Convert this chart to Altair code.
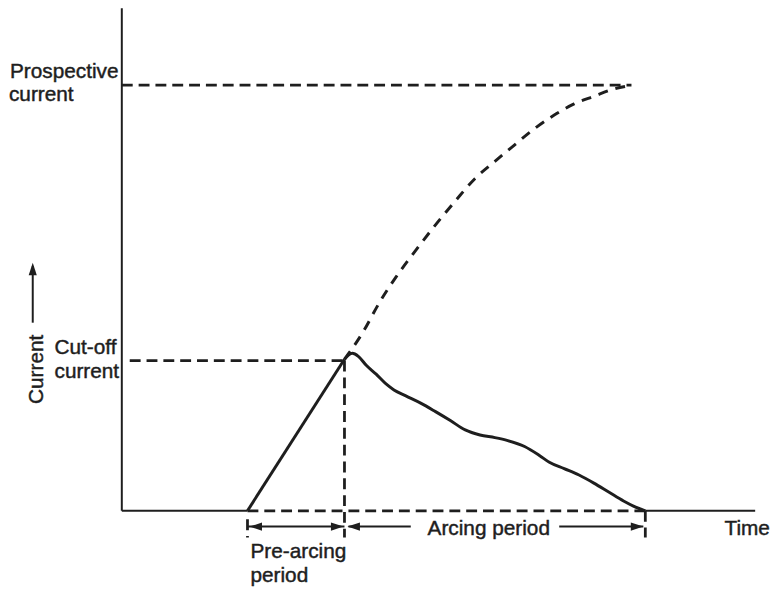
import altair as alt
import pandas as pd

# ---- data (time in arbitrary units, current in per-unit of prospective current) ----
# actual current through the fuse (solid): rise during pre-arcing, decay during arcing
cut_time = [2.54, 4.50, 4.66, 4.78, 4.94, 5.14, 5.34, 5.50, 5.74, 6.04, 6.34, 6.64, 6.94,
            7.24, 7.54, 7.80, 8.14, 8.44, 8.64, 8.94, 9.24, 9.54, 9.84, 10.14, 10.34, 10.58]
cut_current = [0.0, 0.356, 0.370, 0.363, 0.342, 0.321, 0.298, 0.284, 0.270, 0.253, 0.233,
               0.212, 0.190, 0.178, 0.172, 0.165, 0.151, 0.130, 0.114, 0.099, 0.084, 0.065,
               0.044, 0.023, 0.011, 0.0]

# prospective current (dashed) continuing beyond the cut-off point
pros_time = [4.50, 4.60, 4.88, 5.20, 5.54, 5.94, 6.34, 6.74, 7.14, 7.54, 7.94, 8.34, 8.74,
             9.14, 9.54, 9.94, 10.30]
pros_current = [0.356, 0.372, 0.421, 0.488, 0.549, 0.612, 0.672, 0.728, 0.781, 0.821, 0.860,
                0.898, 0.930, 0.956, 0.974, 0.991, 1.0]

# key levels / instants
prospective_level = 1.0
cutoff_level = 0.353
t_start = 2.54
t_cut = 4.50
t_end = 10.58
t_pros_peak = 10.30
t_axis_end = 12.8
c_axis_top = 1.181

T_DOMAIN = [-2.3, 13.12]
C_DOMAIN = [-0.1814, 1.1744]
INK = "#1e1e1e"
FONT = "Liberation Sans"

xs = alt.Scale(domain=T_DOMAIN, nice=False, zero=False)
ys = alt.Scale(domain=C_DOMAIN, nice=False, zero=False)


def X(f="t"):
    return alt.X(f"{f}:Q", scale=xs, axis=None)


def Y(f="c"):
    return alt.Y(f"{f}:Q", scale=ys, axis=None)


# axes lines (solid parts)
solid_segs = pd.DataFrame({
    "t": [0.0, 0.0, t_end],
    "t2": [0.0, t_start, t_axis_end],
    "c": [0.0, 0.0, 0.0],
    "c2": [c_axis_top, 0.0, 0.0],
})
axis_layer = alt.Chart(solid_segs).mark_rule(color=INK, strokeWidth=2).encode(
    x=X("t"), x2="t2:Q", y=Y("c"), y2="c2:Q")

# dashed guide segments
arrow_row = -0.0372
tick_low = -0.063
dash_segs = pd.DataFrame({
    "t": [0.0, 0.16, t_start, t_cut, t_start, t_end],
    "t2": [t_pros_peak, t_cut, t_end, t_cut, t_start, t_end],
    "c": [prospective_level, cutoff_level, 0.0, cutoff_level, -0.02, -0.0],
    "c2": [prospective_level, cutoff_level, 0.0, tick_low, tick_low, tick_low],
})
dash_layer = alt.Chart(dash_segs).mark_rule(color=INK, strokeWidth=2.8, strokeDash=[11, 6]).encode(
    x=X("t"), x2="t2:Q", y=Y("c"), y2="c2:Q")

# curves
rise = alt.Chart(pd.DataFrame({"t": cut_time[:2], "c": cut_current[:2]})).mark_line(
    color=INK, strokeWidth=3).encode(x=X(), y=Y())
decay = alt.Chart(pd.DataFrame({"t": cut_time[1:], "c": cut_current[1:], "o": range(len(cut_time) - 1)})).mark_line(
    color=INK, strokeWidth=3, interpolate="monotone").encode(x=X(), y=Y(), order="o:Q")
pros_curve = alt.Chart(pd.DataFrame({"t": pros_time, "c": pros_current, "o": range(len(pros_time))})).mark_line(
    color=INK, strokeWidth=3, strokeDash=[10, 8], interpolate="monotone").encode(x=X(), y=Y(), order="o:Q")

# arrow shafts below the time axis
shafts = pd.DataFrame({
    "t": [t_start, 4.58, 8.84],
    "t2": [t_cut, 5.84, t_end - 0.04],
    "c": [arrow_row] * 3,
})
shaft_layer = alt.Chart(shafts).mark_rule(color=INK, strokeWidth=2).encode(
    x=X("t"), x2="t2:Q", y=Y("c"))

RIGHT = "M0,0L-2,-0.65L-2,0.65Z"
LEFT = "M0,0L2,-0.65L2,0.65Z"
UP = "M0,0L-0.65,2L0.65,2Z"
heads_r = pd.DataFrame({"t": [t_cut - 0.02, t_end - 0.04], "c": [arrow_row] * 2})
heads_l = pd.DataFrame({"t": [t_start + 0.04, t_cut + 0.06], "c": [arrow_row] * 2})
head_r_layer = alt.Chart(heads_r).mark_point(shape=RIGHT, filled=True, size=160, color=INK, opacity=1).encode(x=X(), y=Y())
head_l_layer = alt.Chart(heads_l).mark_point(shape=LEFT, filled=True, size=160, color=INK, opacity=1).encode(x=X(), y=Y())

# y-axis title arrow
cur_arrow = pd.DataFrame({"t": [-1.8], "c": [0.442], "c2": [0.575]})
cur_shaft = alt.Chart(cur_arrow).mark_rule(color=INK, strokeWidth=2).encode(x=X(), y=Y(), y2="c2:Q")
cur_head = alt.Chart(pd.DataFrame({"t": [-1.8], "c": [0.583]})).mark_point(
    shape=UP, filled=True, size=160, color=INK, opacity=1).encode(x=X(), y=Y())

# labels
labels = pd.DataFrame({
    "text": ["Prospective", "current", "Cut-off", "current", "Time", "Pre-arcing", "period", "Arcing period"],
    "t": [-2.26, -2.28, -1.36, -1.36, 12.18, 2.6, 2.6, 6.18],
    "c": [1.016, 0.962, 0.369, 0.311, -0.056, -0.112, -0.168, -0.058],
})
label_layer = alt.Chart(labels).mark_text(
    align="left", baseline="alphabetic", font=FONT, fontSize=21, color=INK,
    stroke=INK, strokeWidth=0.45).encode(
    x=X(), y=Y(), text="text:N")

ylab = alt.Chart(pd.DataFrame({"text": ["Current"], "t": [-1.6], "c": [0.251]})).mark_text(
    align="left", baseline="alphabetic", angle=270, font=FONT, fontSize=21, color=INK,
    stroke=INK, strokeWidth=0.45).encode(
    x=X(), y=Y(), text="text:N")

chart = alt.layer(
    dash_layer, pros_curve, axis_layer, rise, decay, shaft_layer, head_r_layer, head_l_layer,
    cur_shaft, cur_head, label_layer, ylab
).properties(
    width=771, height=583,
    autosize=alt.AutoSizeParams(type="none"),
    padding=0,
    background="white",
).configure_view(stroke=None)

chart.save("out.html", embed_options={"renderer": "svg", "actions": False})
